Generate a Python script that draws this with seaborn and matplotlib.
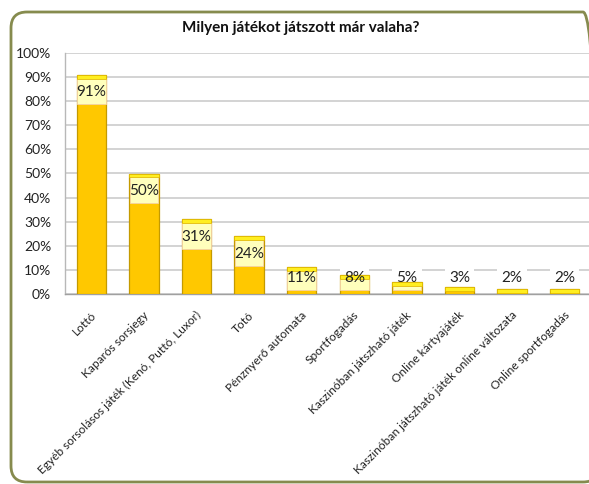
import numpy as np
import pandas as pd
import matplotlib
matplotlib.use("Agg")
import matplotlib.pyplot as plt
import matplotlib.patches as mpatches
import matplotlib.transforms as mtransforms
from matplotlib.ticker import PercentFormatter, MultipleLocator
import seaborn as sns

# ── DATA ────────────────────────────────────────────────────
games = [
    "Lottó",
    "Kaparós sorsjegy",
    "Egyéb sorsolásos játék (Kenó, Puttó, Luxor)",
    "Totó",
    "Pénznyerő automata",
    "Sportfogadás",
    "Kaszinóban játszható játék",
    "Online kártyajáték",
    "Kaszinóban játszható játék online változata",
    "Online sportfogadás",
]
shares = [0.91, 0.50, 0.31, 0.24, 0.11, 0.08, 0.05, 0.03, 0.02, 0.02]
title = "Milyen játékot játszott már valaha?"

sns.set_theme(style="white")
plt.rcParams["font.family"] = ["Lato", "DejaVu Sans"]

df = pd.DataFrame({"game": games, "share": shares})

fig = plt.figure(figsize=(5.89, 4.84), dpi=100)
ax = fig.add_axes([65 / 589, 1 - 294 / 484, 526 / 589, 241 / 484])

BAR_W = 0.56
cap = 0.016
half = 0.05
x = np.arange(len(shares))
vals = np.array(shares)
label_y = np.maximum(vals - 0.073, 0.066)

# white label boxes behind the bars (they break the gridlines)
ax.bar(x, 2 * half, bottom=label_y - half, width=BAR_W, color="white",
       linewidth=0, zorder=2)

sns.barplot(data=df, x="game", y="share", ax=ax, color="#FFC800",
            saturation=1, width=BAR_W, edgecolor="#C49A00", linewidth=0.9,
            zorder=3)

# pale part of the label box where it overlaps the bar
lo = label_y - half
hi = np.minimum(label_y + half + 0.02, vals - cap)
hgt = np.clip(hi - lo, 0, None)
ax.bar(x, hgt, bottom=lo, width=BAR_W * 0.97, color="#FFFFBC",
       edgecolor="#F4D2A6", linewidth=0.6, zorder=4)

# bright cap on top of each bar
capv = np.minimum(cap, vals)
ax.bar(x, capv, bottom=vals - capv, width=BAR_W, color="#FFEE20",
       edgecolor="#E0B800", linewidth=0.5, zorder=5)

for i, v in enumerate(shares):
    ax.text(i, label_y[i], f"{v:.0%}", ha="center", va="center",
            fontsize=11, color="#222222", zorder=6)

ax.set_ylim(0, 1)
ax.set_xlim(-0.5, len(games) - 0.5)
ax.yaxis.set_major_locator(MultipleLocator(0.1))
ax.yaxis.set_major_formatter(PercentFormatter(1.0, decimals=0))
ax.grid(axis="y", color="#D0D0D0", linewidth=1.3, zorder=0)
ax.set_axisbelow(True)
ax.set_xlabel("")
ax.set_ylabel("")

for side in ["top", "right"]:
    ax.spines[side].set_visible(False)
ax.spines["left"].set_color("#B8B8B8")
ax.spines["bottom"].set_color("#A0A0A0")
ax.spines["left"].set_linewidth(1.0)
ax.spines["bottom"].set_linewidth(1.0)

ax.tick_params(axis="y", length=0, pad=10, labelsize=10, colors="#222222")
ax.tick_params(axis="x", length=0, pad=14, labelsize=8.6, colors="#222222")
ax.set_xticks(x)
ax.set_xticklabels(games, rotation=45, ha="right", va="center",
                   rotation_mode="anchor")
for lbl in ax.get_xticklabels():
    lbl.set_transform(lbl.get_transform() +
                      mtransforms.ScaledTranslation(2 / 72, 0, fig.dpi_scale_trans))

fig.text(0.51, 1 - 28 / 484, title, ha="center", va="center",
         fontsize=11, fontweight="bold", color="#111111")

# rounded olive frame around the chart
frame = mpatches.FancyBboxPatch((11, 2), 588, 470,
                                boxstyle="round,pad=0,rounding_size=16",
                                transform=mtransforms.IdentityTransform(),
                                facecolor="none", edgecolor="#868B4E",
                                linewidth=2.0)
fig.patches.append(frame)

fig.savefig("out.png", dpi=100)
